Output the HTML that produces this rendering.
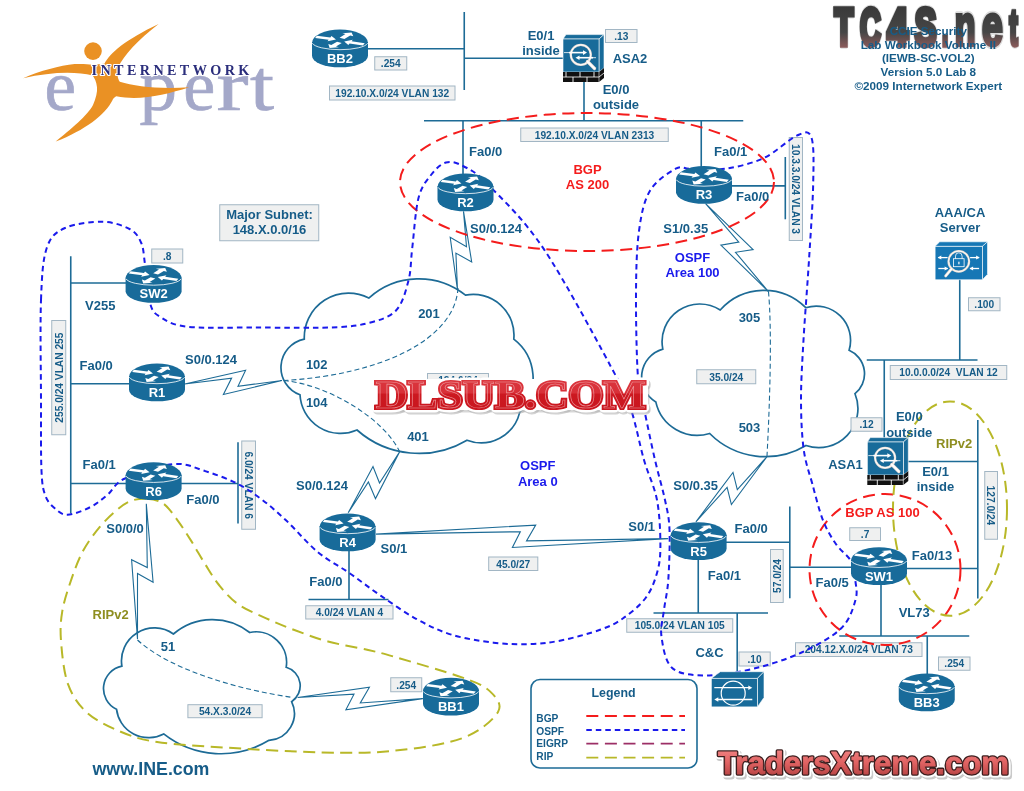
<!DOCTYPE html>
<html><head><meta charset="utf-8"><style>
html,body{margin:0;padding:0;background:#fff;width:1024px;height:791px;overflow:hidden}
svg{display:block;will-change:transform}
text{font-family:"Liberation Sans",sans-serif}
</style></head><body>
<svg width="1024" height="791" viewBox="0 0 1024 791">
<defs>
<linearGradient id="tcg" gradientUnits="userSpaceOnUse" x1="0" y1="7" x2="0" y2="48">
<stop offset="0" stop-color="#3a3a3a"/><stop offset="0.62" stop-color="#464646"/><stop offset="1" stop-color="#8e5c5c"/>
</linearGradient>
<linearGradient id="txg" gradientUnits="userSpaceOnUse" x1="0" y1="750" x2="0" y2="776">
<stop offset="0" stop-color="#f08080"/><stop offset="0.5" stop-color="#e06262"/><stop offset="1" stop-color="#b84444"/>
</linearGradient>
<linearGradient id="dlg" x1="0" y1="0" x2="0" y2="1">
<stop offset="0" stop-color="#dc3a42"/><stop offset="0.48" stop-color="#d83038"/><stop offset="0.52" stop-color="#cc1820"/><stop offset="1" stop-color="#c8161e"/>
</linearGradient>
</defs>
<g id="logo">
<text x="44.5" y="109.7" style="font-family:Liberation Serif" font-size="72" fill="#a4a8c9" stroke="#a4a8c9" stroke-width="0.7" textLength="31.5" lengthAdjust="spacingAndGlyphs">e</text>
<text x="139.5" y="109.7" style="font-family:Liberation Serif" font-size="72" fill="#a4a8c9" stroke="#a4a8c9" stroke-width="0.7" textLength="37.5" lengthAdjust="spacingAndGlyphs">p</text>
<text x="183.3" y="109.7" style="font-family:Liberation Serif" font-size="72" fill="#a4a8c9" stroke="#a4a8c9" stroke-width="0.7" textLength="32" lengthAdjust="spacingAndGlyphs">e</text>
<text x="216.5" y="109.7" style="font-family:Liberation Serif" font-size="72" fill="#a4a8c9" stroke="#a4a8c9" stroke-width="0.7" textLength="32" lengthAdjust="spacingAndGlyphs">r</text>
<text x="250" y="109.7" style="font-family:Liberation Serif" font-size="72" fill="#a4a8c9" stroke="#a4a8c9" stroke-width="0.7" textLength="24" lengthAdjust="spacingAndGlyphs">t</text>
<path fill="#ea9124" d="M23.1 78.2 C40 71 60 65.5 74.6 64.1 C82 63.5 88 64.3 92 64.7 L104.4 63.8 C110 53 125 40 158.6 24 C138 40 124 55 118 67.4 C116.5 72 117.5 78 119.8 81.8 C135 86.5 160 89.5 189.3 87.3 C165 95 140 101 116.2 96.3 C114 97.5 113 99 112.6 99.9 C105 115 85 130 55.7 141.5 C70 130 88 115 93 105 C96 98 97.5 92 97 87.3 C96.5 82 94.5 78 92.7 75.5 C75 71 50 72 23.1 78.2 Z"/>
<circle cx="93" cy="51.1" r="8.8" fill="#ea9124"/>
<text x="91.6" y="74.6" style="font-family:Liberation Serif" font-weight="bold" font-size="14.2" fill="#fff" stroke="#fff" stroke-width="2.2" stroke-linejoin="round" textLength="157.7" lengthAdjust="spacing">INTERNETWORK</text>
<text x="91.6" y="74.6" style="font-family:Liberation Serif" font-weight="bold" font-size="14.2" fill="#2b2e7c" textLength="157.7" lengthAdjust="spacing">INTERNETWORK</text>
</g>
<line x1="368" y1="48.75" x2="464.25" y2="48.75" stroke="#1d6b96" stroke-width="1.6"/>
<line x1="464.25" y1="12" x2="464.25" y2="90" stroke="#1d6b96" stroke-width="1.6"/>
<line x1="464.25" y1="58.25" x2="563" y2="58.25" stroke="#1d6b96" stroke-width="1.6"/>
<line x1="584" y1="81" x2="584" y2="120.75" stroke="#1d6b96" stroke-width="1.6"/>
<line x1="424" y1="120.75" x2="743.25" y2="120.75" stroke="#1d6b96" stroke-width="1.6"/>
<line x1="463" y1="120.75" x2="463" y2="175" stroke="#1d6b96" stroke-width="1.6"/>
<line x1="701.25" y1="120.75" x2="701.25" y2="168" stroke="#1d6b96" stroke-width="1.6"/>
<line x1="732" y1="185.9" x2="785" y2="185.9" stroke="#1d6b96" stroke-width="1.6"/>
<line x1="785.3" y1="157" x2="785.3" y2="219.3" stroke="#1d6b96" stroke-width="1.6"/>
<line x1="71" y1="283" x2="126" y2="283" stroke="#1d6b96" stroke-width="1.6"/>
<line x1="70.75" y1="256.25" x2="70.75" y2="513.5" stroke="#1d6b96" stroke-width="1.6"/>
<line x1="71" y1="383.75" x2="129" y2="383.75" stroke="#1d6b96" stroke-width="1.6"/>
<line x1="71" y1="483.5" x2="126" y2="483.5" stroke="#1d6b96" stroke-width="1.6"/>
<line x1="181" y1="483.5" x2="238" y2="483.5" stroke="#1d6b96" stroke-width="1.6"/>
<line x1="238" y1="442.25" x2="238" y2="523.5" stroke="#1d6b96" stroke-width="1.6"/>
<line x1="349" y1="550" x2="349" y2="599.5" stroke="#1d6b96" stroke-width="1.6"/>
<line x1="308.5" y1="599.5" x2="388.5" y2="599.5" stroke="#1d6b96" stroke-width="1.6"/>
<line x1="726" y1="542.25" x2="790" y2="542.25" stroke="#1d6b96" stroke-width="1.6"/>
<line x1="789.8" y1="506.5" x2="789.8" y2="598.3" stroke="#1d6b96" stroke-width="1.6"/>
<line x1="790" y1="567.25" x2="852" y2="567.25" stroke="#1d6b96" stroke-width="1.6"/>
<line x1="906" y1="568.5" x2="977.8" y2="568.5" stroke="#1d6b96" stroke-width="1.6"/>
<line x1="977.8" y1="420" x2="977.8" y2="598.4" stroke="#1d6b96" stroke-width="1.6"/>
<line x1="908" y1="461.5" x2="977.8" y2="461.5" stroke="#1d6b96" stroke-width="1.6"/>
<line x1="866.75" y1="360" x2="977.5" y2="360" stroke="#1d6b96" stroke-width="1.6"/>
<line x1="959.75" y1="279" x2="959.75" y2="360" stroke="#1d6b96" stroke-width="1.6"/>
<line x1="884.25" y1="360" x2="884.25" y2="438" stroke="#1d6b96" stroke-width="1.6"/>
<line x1="881" y1="584" x2="881" y2="636" stroke="#1d6b96" stroke-width="1.6"/>
<line x1="839.25" y1="636" x2="969.25" y2="636" stroke="#1d6b96" stroke-width="1.6"/>
<line x1="927.25" y1="636" x2="927.25" y2="674" stroke="#1d6b96" stroke-width="1.6"/>
<line x1="698.25" y1="559" x2="698.25" y2="613" stroke="#1d6b96" stroke-width="1.6"/>
<line x1="653.5" y1="613" x2="768" y2="613" stroke="#1d6b96" stroke-width="1.6"/>
<line x1="737.2" y1="613" x2="737.2" y2="672" stroke="#1d6b96" stroke-width="1.6"/>
<path d="M368.8 298.1 A74.72 74.72 0 0 1 465.5 295.2 A40.7 40.7 0 0 1 513.8 339.1 A49.71 49.71 0 0 1 519.7 412.4 A39.74 39.74 0 0 1 467 440.2 A93.83 93.83 0 0 1 357 430 A40.7 40.7 0 0 1 300 394.8 A29.02 29.02 0 0 1 304.3 339.1 A44.25 44.25 0 0 1 368.8 298.1 Z" fill="#ffffff" stroke="#1d6b96" stroke-width="1.7"/>
<path d="M720.2 310 A58.82 58.82 0 0 1 805.8 307.7 A34.33 34.33 0 0 1 849.1 350.3 A25.6 25.6 0 0 1 855 393.7 A39.11 39.11 0 0 1 806 445.5 A78.9 78.9 0 0 1 709.7 433.5 A42.61 42.61 0 0 1 655.8 401.9 A28.98 28.98 0 0 1 662.8 349.1 A37.71 37.71 0 0 1 720.2 310 Z" fill="#ffffff" stroke="#1d6b96" stroke-width="1.7"/>
<path d="M173.4 634 A60.13 60.13 0 0 1 249.7 632.5 A30.58 30.58 0 0 1 286.2 667.3 A19.13 19.13 0 0 1 291.6 701.7 A26.84 26.84 0 0 1 269 740.3 A92.57 92.57 0 0 1 163.7 733.9 A32.28 32.28 0 0 1 116.5 709.2 A22.83 22.83 0 0 1 121.9 666.2 A32.91 32.91 0 0 1 173.4 634 Z" fill="#ffffff" stroke="#1d6b96" stroke-width="1.7"/>
<path d="M458 288 C455 340 380 375 283.8 380.5" fill="none" stroke="#1d6b96" stroke-width="1.1" stroke-dasharray="5 3" />
<path d="M283.8 380.5 C330 385 385 420 399.8 452" fill="none" stroke="#1d6b96" stroke-width="1.1" stroke-dasharray="5 3" />
<path d="M768.5 291.8 C772 330 770 400 767 456" fill="none" stroke="#1d6b96" stroke-width="1.1" stroke-dasharray="5 3" />
<path d="M137.5 640 C170 670 240 690 293 697.5" fill="none" stroke="#1d6b96" stroke-width="1.1" stroke-dasharray="5 3" />
<path d="M184.7 384 L245.6 370.2 L238 386.3 L282 380.5 L223.4 394.5 L231.6 378.1 Z" fill="#ffffff" stroke="#1d6b96" stroke-width="1.1" stroke-linejoin="miter"/>
<path d="M463.5 211.4 L466.5 246.8 L450.2 237.3 L457.5 290 L455.9 253.1 L471.7 262 Z" fill="#ffffff" stroke="#1d6b96" stroke-width="1.1" stroke-linejoin="miter"/>
<path d="M348.2 512.8 L373 466.5 L379.5 483 L399.8 451.6 L375.5 498.6 L368.4 482 Z" fill="#ffffff" stroke="#1d6b96" stroke-width="1.1" stroke-linejoin="miter"/>
<path d="M705.6 203.6 L738.8 242.1 L720.9 245.1 L768.6 291.8 L735.5 252.3 L753.1 249.6 Z" fill="#ffffff" stroke="#1d6b96" stroke-width="1.1" stroke-linejoin="miter"/>
<path d="M695.9 521.8 L733 472.4 L737.3 489.6 L766.8 456.8 L731.4 504.6 L727.1 487.4 Z" fill="#ffffff" stroke="#1d6b96" stroke-width="1.1" stroke-linejoin="miter"/>
<path d="M146.3 503.8 L147.3 567.5 L131.6 559.7 L137.5 639.1 L137.5 573.4 L153.1 582.3 Z" fill="#ffffff" stroke="#1d6b96" stroke-width="1.1" stroke-linejoin="miter"/>
<path d="M297.6 697.5 L354 694.2 L345.9 709.8 L422.8 698.6 L360.3 703 L369.4 687.3 Z" fill="#ffffff" stroke="#1d6b96" stroke-width="1.1" stroke-linejoin="miter"/>
<path d="M376 534.1 L535.7 525.1 L526.5 540.9 L668.2 538.6 L512.4 547.5 L520.3 531.7 Z" fill="#ffffff" stroke="#1d6b96" stroke-width="1.1" stroke-linejoin="miter"/>
<rect x="374.75" y="56.75" width="32" height="13.25" fill="#eff0f0" stroke="#a2b6c4" stroke-width="1"/>
<text x="390.75" y="67.18" font-size="10.2" fill="#165c88" text-anchor="middle" font-weight="bold" >.254</text>
<rect x="329.5" y="86" width="125.5" height="14" fill="#eff0f0" stroke="#a2b6c4" stroke-width="1"/>
<text x="392.25" y="96.81" font-size="10.2" fill="#165c88" text-anchor="middle" font-weight="bold" >192.10.X.0/24 VLAN 132</text>
<rect x="605.5" y="29.5" width="31.5" height="13" fill="#eff0f0" stroke="#a2b6c4" stroke-width="1"/>
<text x="621.25" y="39.81" font-size="10.2" fill="#165c88" text-anchor="middle" font-weight="bold" >.13</text>
<rect x="520.75" y="128" width="147.5" height="13.5" fill="#eff0f0" stroke="#a2b6c4" stroke-width="1"/>
<text x="594.5" y="138.56" font-size="10.2" fill="#165c88" text-anchor="middle" font-weight="bold" >192.10.X.0/24 VLAN 2313</text>
<rect x="789.25" y="137.5" width="13.25" height="103" fill="#eff0f0" stroke="#a2b6c4" stroke-width="1"/>
<g transform="translate(795.88 189) rotate(90)">
<text x="0" y="3.81" font-size="10.2" fill="#165c88" text-anchor="middle" font-weight="bold" >10.3.3.0/24 VLAN 3</text>
</g>
<rect x="219.75" y="204.75" width="99" height="36" fill="#eff0f0" stroke="#a2b6c4" stroke-width="1"/>
<text x="269.5" y="219.27" font-size="13" fill="#165c88" text-anchor="middle" font-weight="bold" >Major Subnet:</text>
<text x="269.5" y="234.27" font-size="13" fill="#165c88" text-anchor="middle" font-weight="bold" >148.X.0.0/16</text>
<rect x="151.75" y="249" width="31" height="14" fill="#eff0f0" stroke="#a2b6c4" stroke-width="1"/>
<text x="167.25" y="259.81" font-size="10.2" fill="#165c88" text-anchor="middle" font-weight="bold" >.8</text>
<rect x="51.75" y="320.5" width="14" height="114.25" fill="#eff0f0" stroke="#a2b6c4" stroke-width="1"/>
<g transform="translate(58.75 377.62) rotate(-90)">
<text x="0" y="3.81" font-size="10.2" fill="#165c88" text-anchor="middle" font-weight="bold" >255.0/24 VLAN 255</text>
</g>
<rect x="241.75" y="441" width="13.75" height="88.25" fill="#eff0f0" stroke="#a2b6c4" stroke-width="1"/>
<g transform="translate(248.62 485.12) rotate(90)">
<text x="0" y="3.81" font-size="10.2" fill="#165c88" text-anchor="middle" font-weight="bold" >6.0/24 VLAN 6</text>
</g>
<rect x="968.5" y="297.75" width="31.5" height="13" fill="#eff0f0" stroke="#a2b6c4" stroke-width="1"/>
<text x="984.25" y="308.06" font-size="10.2" fill="#165c88" text-anchor="middle" font-weight="bold" >.100</text>
<rect x="890.25" y="365.5" width="116.5" height="14" fill="#eff0f0" stroke="#a2b6c4" stroke-width="1"/>
<text x="948.5" y="376.31" font-size="10.2" fill="#165c88" text-anchor="middle" font-weight="bold" >10.0.0.0/24&#160;&#160;VLAN 12</text>
<rect x="696.75" y="369.75" width="59" height="14" fill="#eff0f0" stroke="#a2b6c4" stroke-width="1"/>
<text x="726.25" y="380.56" font-size="10.2" fill="#165c88" text-anchor="middle" font-weight="bold" >35.0/24</text>
<rect x="427.5" y="373.5" width="61" height="14" fill="#eff0f0" stroke="#a2b6c4" stroke-width="1"/>
<text x="458" y="384.31" font-size="10.2" fill="#165c88" text-anchor="middle" font-weight="bold" >124.0/24</text>
<rect x="851" y="417.75" width="31" height="13.5" fill="#eff0f0" stroke="#a2b6c4" stroke-width="1"/>
<text x="866.5" y="428.31" font-size="10.2" fill="#165c88" text-anchor="middle" font-weight="bold" >.12</text>
<rect x="984.75" y="471.5" width="12.75" height="67.75" fill="#eff0f0" stroke="#a2b6c4" stroke-width="1"/>
<g transform="translate(991.12 505.38) rotate(90)">
<text x="0" y="3.81" font-size="10.2" fill="#165c88" text-anchor="middle" font-weight="bold" >127.0/24</text>
</g>
<rect x="849.75" y="527.75" width="30.75" height="12.75" fill="#eff0f0" stroke="#a2b6c4" stroke-width="1"/>
<text x="865.12" y="537.93" font-size="10.2" fill="#165c88" text-anchor="middle" font-weight="bold" >.7</text>
<rect x="488.7" y="557" width="49.1" height="13.5" fill="#eff0f0" stroke="#a2b6c4" stroke-width="1"/>
<text x="513.25" y="567.56" font-size="10.2" fill="#165c88" text-anchor="middle" font-weight="bold" >45.0/27</text>
<rect x="770.5" y="549.5" width="12.7" height="53" fill="#eff0f0" stroke="#a2b6c4" stroke-width="1"/>
<g transform="translate(776.85 576) rotate(-90)">
<text x="0" y="3.81" font-size="10.2" fill="#165c88" text-anchor="middle" font-weight="bold" >57.0/24</text>
</g>
<rect x="305.75" y="605.75" width="87.25" height="13.25" fill="#eff0f0" stroke="#a2b6c4" stroke-width="1"/>
<text x="349.38" y="616.18" font-size="10.2" fill="#165c88" text-anchor="middle" font-weight="bold" >4.0/24 VLAN 4</text>
<rect x="626.75" y="618.75" width="106" height="13.5" fill="#eff0f0" stroke="#a2b6c4" stroke-width="1"/>
<text x="679.75" y="629.31" font-size="10.2" fill="#165c88" text-anchor="middle" font-weight="bold" >105.0/24 VLAN 105</text>
<rect x="739" y="652" width="31.2" height="14" fill="#eff0f0" stroke="#a2b6c4" stroke-width="1"/>
<text x="754.6" y="662.81" font-size="10.2" fill="#165c88" text-anchor="middle" font-weight="bold" >.10</text>
<rect x="795.5" y="642.75" width="126.5" height="13.75" fill="#eff0f0" stroke="#a2b6c4" stroke-width="1"/>
<text x="858.75" y="653.43" font-size="10.2" fill="#165c88" text-anchor="middle" font-weight="bold" >204.12.X.0/24 VLAN 73</text>
<rect x="938.5" y="657" width="31.5" height="13.25" fill="#eff0f0" stroke="#a2b6c4" stroke-width="1"/>
<text x="954.25" y="667.43" font-size="10.2" fill="#165c88" text-anchor="middle" font-weight="bold" >.254</text>
<rect x="187.9" y="704.7" width="74.2" height="13" fill="#eff0f0" stroke="#a2b6c4" stroke-width="1"/>
<text x="225" y="715.01" font-size="10.2" fill="#165c88" text-anchor="middle" font-weight="bold" >54.X.3.0/24</text>
<rect x="390.75" y="677.75" width="31" height="14" fill="#eff0f0" stroke="#a2b6c4" stroke-width="1"/>
<text x="406.25" y="688.56" font-size="10.2" fill="#165c88" text-anchor="middle" font-weight="bold" >.254</text>
<rect x="531" y="679.5" width="166" height="88.5" rx="9" ry="9" fill="#ffffff" stroke="#1d6b96" stroke-width="1.6"/>
<text x="613.5" y="696.57" font-size="12.4" fill="#165c88" text-anchor="middle" font-weight="bold" >Legend</text>
<text x="536.3" y="721.61" font-size="10.2" fill="#165c88" text-anchor="start" font-weight="bold" >BGP</text>
<text x="536.3" y="734.61" font-size="10.2" fill="#165c88" text-anchor="start" font-weight="bold" >OSPF</text>
<text x="536.3" y="747.41" font-size="10.2" fill="#165c88" text-anchor="start" font-weight="bold" >EIGRP</text>
<text x="536.3" y="760.01" font-size="10.2" fill="#165c88" text-anchor="start" font-weight="bold" >RIP</text>
<path d="M586.3 716 L685 716" fill="none" stroke="#f41c1c" stroke-width="1.8" stroke-dasharray="12 6.6" />
<path d="M586.3 730 L685 730" fill="none" stroke="#1a1aec" stroke-width="1.8" stroke-dasharray="5.5 4" />
<path d="M586.3 743.6 L685 743.6" fill="none" stroke="#9c2f66" stroke-width="1.8" stroke-dasharray="12 6.6" />
<path d="M586.3 757.6 L685 757.6" fill="none" stroke="#b8b828" stroke-width="1.8" stroke-dasharray="12 6.6" />
<ellipse cx="587" cy="182" rx="187" ry="69" fill="none" stroke="#f41c1c" stroke-width="2" stroke-dasharray="12 6.5"/>
<circle cx="885" cy="569.5" r="75.5" fill="none" stroke="#f41c1c" stroke-width="2" stroke-dasharray="12 6.5"/>
<ellipse cx="950" cy="508.6" rx="57" ry="107.2" fill="none" stroke="#b8b828" stroke-width="2" stroke-dasharray="12 6.5"/>
<path d="M146.7 498.75 C152.17 499.13 158.02 499.89 163.1 503.4 C168.18 506.91 172.52 513.55 177.2 519.8 C181.88 526.05 186.52 533.47 191.2 540.9 C195.88 548.33 200.6 556.97 205.3 564.4 C210 571.83 213.93 578.87 219.4 585.5 C224.87 592.13 230.3 598.73 238.1 604.2 C245.9 609.67 256.82 614 266.2 618.3 C275.58 622.6 284.1 626.13 294.4 630 C304.7 633.87 315.7 638.17 328 641.5 C340.3 644.83 357.03 647.42 368.2 650 C379.37 652.58 379.38 652.43 395 657 C410.62 661.57 446.07 671.67 461.9 677.4 C477.73 683.13 483.98 685.63 490 691.4 C496.02 697.17 502.68 704.18 498 712 C493.32 719.82 479.63 731.8 461.9 738.3 C444.17 744.8 415.03 748.65 391.6 751 C368.17 753.35 348.65 752.95 321.3 752.4 C293.95 751.85 254.85 749.43 227.5 747.7 C200.15 745.97 175.17 744.73 157.2 742 C139.23 739.27 131.42 736.22 119.7 731.3 C107.98 726.38 95.5 720.32 86.9 712.5 C78.3 704.68 72.4 696.12 68.1 684.4 C63.8 672.68 62.07 654.4 61.1 642.2 C60.13 630 60.53 621.83 62.3 611.2 C64.07 600.57 68.18 588.55 71.7 578.4 C75.22 568.25 78.72 558.88 83.4 550.3 C88.08 541.72 94.33 533.53 99.8 526.9 C105.27 520.27 111.12 514.8 116.2 510.5 C121.28 506.2 125.22 503.06 130.3 501.1 C135.38 499.14 141.23 498.37 146.7 498.75 Z" fill="none" stroke="#b8b828" stroke-width="2" stroke-dasharray="12 6.5" />
<path d="M41 300 C41.96 274.67 42.75 260 46.75 248 C50.75 236 55.71 232.38 65 228 C74.29 223.62 91.67 221.54 102.5 221.75 C113.33 221.96 123.54 225.71 130 229.25 C136.46 232.79 138.75 237.17 141.25 243 C143.75 248.83 143.54 254.25 145 264.25 C146.46 274.25 147.5 294.25 150 303 C152.5 311.75 153.75 312.79 160 316.75 C166.25 320.71 171.5 324.96 187.5 326.75 C203.5 328.54 232.08 327.38 256 327.5 C279.92 327.62 312.25 328.25 331 327.5 C349.75 326.75 357.67 325.83 368.5 323 C379.33 320.17 389.33 317.58 396 310.5 C402.67 303.42 405.79 290.92 408.5 280.5 C411.21 270.08 410.58 261.75 412.25 248 C413.92 234.25 415.38 210.17 418.5 198 C421.62 185.83 426.42 180.92 431 175 C435.58 169.08 440.58 163.96 446 162.5 C451.42 161.04 456.42 162.5 463.5 166.25 C470.58 170 474.97 170.97 488.5 185 C502.03 199.03 523.28 218.23 544.7 250.4 C566.12 282.57 602.53 351.23 617 378 C631.47 404.77 627 397.33 631.5 411 C636 424.67 639.75 445.17 644 460 C648.25 474.83 654.27 485.73 657 500 C659.73 514.27 660.4 533.45 660.4 545.6 C660.4 557.75 659.47 564.17 657 572.9 C654.53 581.63 651.3 590.4 645.6 598 C639.9 605.6 630.4 613.2 622.8 618.5 C615.2 623.8 610.13 626.17 600 629.8 C589.87 633.42 573.67 637.87 562 640.25 C550.33 642.63 541.42 643.69 530 644.1 C518.58 644.51 506.62 644.28 493.5 642.7 C480.38 641.12 464.2 638.58 451.3 634.6 C438.4 630.62 427.82 625.25 416.1 618.8 C404.38 612.35 392.13 603.53 381 595.9 C369.87 588.27 359.85 580.32 349.3 573 C338.75 565.68 328.25 560.78 317.7 552 C307.15 543.22 295.38 529.1 286 520.3 C276.62 511.5 269.6 505.35 261.4 499.2 C253.2 493.05 246.17 488.08 236.8 483.4 C227.43 478.72 215.75 474.32 205.2 471.1 C194.65 467.88 186.87 462.87 173.5 464.1 C160.13 465.33 136 473.39 125 478.5 C114 483.61 113.33 489.96 107.5 494.75 C101.67 499.54 96.67 503.92 90 507.25 C83.33 510.58 73.33 514.54 67.5 514.75 C61.67 514.96 58.67 511.62 55 508.5 C51.33 505.38 47.75 502.25 45.5 496 C43.25 489.75 42.25 487 41.5 471 C40.75 455 41.08 428.5 41 400 C40.92 371.5 40.04 325.33 41 300 Z" fill="none" stroke="#1a1aec" stroke-width="2" stroke-dasharray="5.5 4" />
<path d="M690.8 168.8 C699.05 168.82 713.02 170.6 725.2 168.8 C737.38 167 751.98 163.52 763.9 158 C775.82 152.48 788.78 139.12 796.7 135.7 C804.62 132.28 808.65 129.57 811.4 137.5 C814.15 145.43 813.6 162.88 813.2 183.3 C812.8 203.72 810.62 233.88 809 260 C807.38 286.12 804.83 316.67 803.5 340 C802.17 363.33 800.97 381.77 801 400 C801.03 418.23 801.82 435.43 803.7 449.4 C805.58 463.37 809.08 471.98 812.3 483.8 C815.52 495.62 819.07 510.27 823 520.3 C826.93 530.33 831.23 537.18 835.9 544 C840.57 550.82 847.77 555.12 851 561.2 C854.23 567.28 854.55 574.03 855.3 580.5 C856.05 586.97 857.8 592.08 855.5 600 C853.2 607.92 850.08 619.43 841.5 628 C832.92 636.57 818.05 644.77 804 651.4 C789.95 658.03 772.98 663.8 757.2 667.8 C741.42 671.8 723.35 675.27 709.3 675.4 C695.25 675.53 680.87 675.05 672.9 668.6 C664.93 662.15 662.98 646.47 661.5 636.7 C660.02 626.93 662.87 619.5 664 610 C665.13 600.5 667.38 593.1 668.3 579.7 C669.22 566.3 670.05 542.88 669.5 529.6 C668.95 516.32 667.42 511.6 665 500 C662.58 488.4 658.42 474.83 655 460 C651.58 445.17 647.33 424.67 644.5 411 C641.67 397.33 639.42 397.6 638 378 C636.58 358.4 635.83 317.9 636 293.4 C636.17 268.9 636.67 248.12 639 231 C641.33 213.88 643.88 201.08 650 190.7 C656.12 180.32 668.9 172.35 675.7 168.7 C682.5 165.05 682.55 168.78 690.8 168.8 Z" fill="none" stroke="#1a1aec" stroke-width="2" stroke-dasharray="5.5 4" />
<g transform="translate(340 41)">
<path d="M-28 1 L-28 14.8 A28 11.5 0 0 0 28 14.8 L28 1 Z" fill="#186b9a"/>
<path d="M-28 2 A28 13.5 0 0 1 28 2 A28 7.6 0 0 1 -28 2 Z" fill="#186b9a"/>
<path d="M-27.7 2.2 A28 7.6 0 0 0 27.7 2.2" fill="none" stroke="#ffffff" stroke-width="0.9" opacity="0.9"/>
<g fill="#ffffff">
<path d="M-24.86 -3.04 L-11.35 -1.28 L-12.45 0.2 L-4 -1.6 L-8.54 -5.09 L-9.64 -3.61 L-23.14 -5.36Z"/>
<path d="M24.79 2.26 L11.58 0.23 L12.85 -1.23 L4.2 0.4 L8.33 3.98 L9.6 2.52 L22.81 4.54Z"/>
<path d="M4.41 -1.92 L10.21 -5.55 L13.29 -4.68 L11.6 -8.6 L2.33 -7.78 L5.4 -6.91 L-0.41 -3.28Z"/>
<path d="M-2.94 0.68 L-8.71 3.98 L-11.69 3.06 L-10.4 7 L-1.05 6.34 L-4.04 5.42 L1.74 2.12Z"/>
</g>
</g>
<text x="340" y="62.77" font-size="13" fill="#ffffff" text-anchor="middle" font-weight="bold" >BB2</text>
<g transform="translate(465.5 185)">
<path d="M-28 1 L-28 14.8 A28 11.5 0 0 0 28 14.8 L28 1 Z" fill="#186b9a"/>
<path d="M-28 2 A28 13.5 0 0 1 28 2 A28 7.6 0 0 1 -28 2 Z" fill="#186b9a"/>
<path d="M-27.7 2.2 A28 7.6 0 0 0 27.7 2.2" fill="none" stroke="#ffffff" stroke-width="0.9" opacity="0.9"/>
<g fill="#ffffff">
<path d="M-24.86 -3.04 L-11.35 -1.28 L-12.45 0.2 L-4 -1.6 L-8.54 -5.09 L-9.64 -3.61 L-23.14 -5.36Z"/>
<path d="M24.79 2.26 L11.58 0.23 L12.85 -1.23 L4.2 0.4 L8.33 3.98 L9.6 2.52 L22.81 4.54Z"/>
<path d="M4.41 -1.92 L10.21 -5.55 L13.29 -4.68 L11.6 -8.6 L2.33 -7.78 L5.4 -6.91 L-0.41 -3.28Z"/>
<path d="M-2.94 0.68 L-8.71 3.98 L-11.69 3.06 L-10.4 7 L-1.05 6.34 L-4.04 5.42 L1.74 2.12Z"/>
</g>
</g>
<text x="465.5" y="206.77" font-size="13" fill="#ffffff" text-anchor="middle" font-weight="bold" >R2</text>
<g transform="translate(704 177.5)">
<path d="M-28 1 L-28 14.8 A28 11.5 0 0 0 28 14.8 L28 1 Z" fill="#186b9a"/>
<path d="M-28 2 A28 13.5 0 0 1 28 2 A28 7.6 0 0 1 -28 2 Z" fill="#186b9a"/>
<path d="M-27.7 2.2 A28 7.6 0 0 0 27.7 2.2" fill="none" stroke="#ffffff" stroke-width="0.9" opacity="0.9"/>
<g fill="#ffffff">
<path d="M-24.86 -3.04 L-11.35 -1.28 L-12.45 0.2 L-4 -1.6 L-8.54 -5.09 L-9.64 -3.61 L-23.14 -5.36Z"/>
<path d="M24.79 2.26 L11.58 0.23 L12.85 -1.23 L4.2 0.4 L8.33 3.98 L9.6 2.52 L22.81 4.54Z"/>
<path d="M4.41 -1.92 L10.21 -5.55 L13.29 -4.68 L11.6 -8.6 L2.33 -7.78 L5.4 -6.91 L-0.41 -3.28Z"/>
<path d="M-2.94 0.68 L-8.71 3.98 L-11.69 3.06 L-10.4 7 L-1.05 6.34 L-4.04 5.42 L1.74 2.12Z"/>
</g>
</g>
<text x="704" y="199.27" font-size="13" fill="#ffffff" text-anchor="middle" font-weight="bold" >R3</text>
<g transform="translate(153.6 276.5)">
<path d="M-28 1 L-28 14.8 A28 11.5 0 0 0 28 14.8 L28 1 Z" fill="#186b9a"/>
<path d="M-28 2 A28 13.5 0 0 1 28 2 A28 7.6 0 0 1 -28 2 Z" fill="#186b9a"/>
<path d="M-27.7 2.2 A28 7.6 0 0 0 27.7 2.2" fill="none" stroke="#ffffff" stroke-width="0.9" opacity="0.9"/>
<g fill="#ffffff">
<path d="M-24.86 -3.04 L-11.35 -1.28 L-12.45 0.2 L-4 -1.6 L-8.54 -5.09 L-9.64 -3.61 L-23.14 -5.36Z"/>
<path d="M24.79 2.26 L11.58 0.23 L12.85 -1.23 L4.2 0.4 L8.33 3.98 L9.6 2.52 L22.81 4.54Z"/>
<path d="M4.41 -1.92 L10.21 -5.55 L13.29 -4.68 L11.6 -8.6 L2.33 -7.78 L5.4 -6.91 L-0.41 -3.28Z"/>
<path d="M-2.94 0.68 L-8.71 3.98 L-11.69 3.06 L-10.4 7 L-1.05 6.34 L-4.04 5.42 L1.74 2.12Z"/>
</g>
</g>
<text x="153.6" y="298.27" font-size="13" fill="#ffffff" text-anchor="middle" font-weight="bold" >SW2</text>
<g transform="translate(157 375)">
<path d="M-28 1 L-28 14.8 A28 11.5 0 0 0 28 14.8 L28 1 Z" fill="#186b9a"/>
<path d="M-28 2 A28 13.5 0 0 1 28 2 A28 7.6 0 0 1 -28 2 Z" fill="#186b9a"/>
<path d="M-27.7 2.2 A28 7.6 0 0 0 27.7 2.2" fill="none" stroke="#ffffff" stroke-width="0.9" opacity="0.9"/>
<g fill="#ffffff">
<path d="M-24.86 -3.04 L-11.35 -1.28 L-12.45 0.2 L-4 -1.6 L-8.54 -5.09 L-9.64 -3.61 L-23.14 -5.36Z"/>
<path d="M24.79 2.26 L11.58 0.23 L12.85 -1.23 L4.2 0.4 L8.33 3.98 L9.6 2.52 L22.81 4.54Z"/>
<path d="M4.41 -1.92 L10.21 -5.55 L13.29 -4.68 L11.6 -8.6 L2.33 -7.78 L5.4 -6.91 L-0.41 -3.28Z"/>
<path d="M-2.94 0.68 L-8.71 3.98 L-11.69 3.06 L-10.4 7 L-1.05 6.34 L-4.04 5.42 L1.74 2.12Z"/>
</g>
</g>
<text x="157" y="396.77" font-size="13" fill="#ffffff" text-anchor="middle" font-weight="bold" >R1</text>
<g transform="translate(153.6 473.75)">
<path d="M-28 1 L-28 14.8 A28 11.5 0 0 0 28 14.8 L28 1 Z" fill="#186b9a"/>
<path d="M-28 2 A28 13.5 0 0 1 28 2 A28 7.6 0 0 1 -28 2 Z" fill="#186b9a"/>
<path d="M-27.7 2.2 A28 7.6 0 0 0 27.7 2.2" fill="none" stroke="#ffffff" stroke-width="0.9" opacity="0.9"/>
<g fill="#ffffff">
<path d="M-24.86 -3.04 L-11.35 -1.28 L-12.45 0.2 L-4 -1.6 L-8.54 -5.09 L-9.64 -3.61 L-23.14 -5.36Z"/>
<path d="M24.79 2.26 L11.58 0.23 L12.85 -1.23 L4.2 0.4 L8.33 3.98 L9.6 2.52 L22.81 4.54Z"/>
<path d="M4.41 -1.92 L10.21 -5.55 L13.29 -4.68 L11.6 -8.6 L2.33 -7.78 L5.4 -6.91 L-0.41 -3.28Z"/>
<path d="M-2.94 0.68 L-8.71 3.98 L-11.69 3.06 L-10.4 7 L-1.05 6.34 L-4.04 5.42 L1.74 2.12Z"/>
</g>
</g>
<text x="153.6" y="495.52" font-size="13" fill="#ffffff" text-anchor="middle" font-weight="bold" >R6</text>
<g transform="translate(347.6 525)">
<path d="M-28 1 L-28 14.8 A28 11.5 0 0 0 28 14.8 L28 1 Z" fill="#186b9a"/>
<path d="M-28 2 A28 13.5 0 0 1 28 2 A28 7.6 0 0 1 -28 2 Z" fill="#186b9a"/>
<path d="M-27.7 2.2 A28 7.6 0 0 0 27.7 2.2" fill="none" stroke="#ffffff" stroke-width="0.9" opacity="0.9"/>
<g fill="#ffffff">
<path d="M-24.86 -3.04 L-11.35 -1.28 L-12.45 0.2 L-4 -1.6 L-8.54 -5.09 L-9.64 -3.61 L-23.14 -5.36Z"/>
<path d="M24.79 2.26 L11.58 0.23 L12.85 -1.23 L4.2 0.4 L8.33 3.98 L9.6 2.52 L22.81 4.54Z"/>
<path d="M4.41 -1.92 L10.21 -5.55 L13.29 -4.68 L11.6 -8.6 L2.33 -7.78 L5.4 -6.91 L-0.41 -3.28Z"/>
<path d="M-2.94 0.68 L-8.71 3.98 L-11.69 3.06 L-10.4 7 L-1.05 6.34 L-4.04 5.42 L1.74 2.12Z"/>
</g>
</g>
<text x="347.6" y="546.77" font-size="13" fill="#ffffff" text-anchor="middle" font-weight="bold" >R4</text>
<g transform="translate(698.6 533.75)">
<path d="M-28 1 L-28 14.8 A28 11.5 0 0 0 28 14.8 L28 1 Z" fill="#186b9a"/>
<path d="M-28 2 A28 13.5 0 0 1 28 2 A28 7.6 0 0 1 -28 2 Z" fill="#186b9a"/>
<path d="M-27.7 2.2 A28 7.6 0 0 0 27.7 2.2" fill="none" stroke="#ffffff" stroke-width="0.9" opacity="0.9"/>
<g fill="#ffffff">
<path d="M-24.86 -3.04 L-11.35 -1.28 L-12.45 0.2 L-4 -1.6 L-8.54 -5.09 L-9.64 -3.61 L-23.14 -5.36Z"/>
<path d="M24.79 2.26 L11.58 0.23 L12.85 -1.23 L4.2 0.4 L8.33 3.98 L9.6 2.52 L22.81 4.54Z"/>
<path d="M4.41 -1.92 L10.21 -5.55 L13.29 -4.68 L11.6 -8.6 L2.33 -7.78 L5.4 -6.91 L-0.41 -3.28Z"/>
<path d="M-2.94 0.68 L-8.71 3.98 L-11.69 3.06 L-10.4 7 L-1.05 6.34 L-4.04 5.42 L1.74 2.12Z"/>
</g>
</g>
<text x="698.6" y="555.52" font-size="13" fill="#ffffff" text-anchor="middle" font-weight="bold" >R5</text>
<g transform="translate(879 558.75)">
<path d="M-28 1 L-28 14.8 A28 11.5 0 0 0 28 14.8 L28 1 Z" fill="#186b9a"/>
<path d="M-28 2 A28 13.5 0 0 1 28 2 A28 7.6 0 0 1 -28 2 Z" fill="#186b9a"/>
<path d="M-27.7 2.2 A28 7.6 0 0 0 27.7 2.2" fill="none" stroke="#ffffff" stroke-width="0.9" opacity="0.9"/>
<g fill="#ffffff">
<path d="M-24.86 -3.04 L-11.35 -1.28 L-12.45 0.2 L-4 -1.6 L-8.54 -5.09 L-9.64 -3.61 L-23.14 -5.36Z"/>
<path d="M24.79 2.26 L11.58 0.23 L12.85 -1.23 L4.2 0.4 L8.33 3.98 L9.6 2.52 L22.81 4.54Z"/>
<path d="M4.41 -1.92 L10.21 -5.55 L13.29 -4.68 L11.6 -8.6 L2.33 -7.78 L5.4 -6.91 L-0.41 -3.28Z"/>
<path d="M-2.94 0.68 L-8.71 3.98 L-11.69 3.06 L-10.4 7 L-1.05 6.34 L-4.04 5.42 L1.74 2.12Z"/>
</g>
</g>
<text x="879" y="580.52" font-size="13" fill="#ffffff" text-anchor="middle" font-weight="bold" >SW1</text>
<g transform="translate(451 689.25)">
<path d="M-28 1 L-28 14.8 A28 11.5 0 0 0 28 14.8 L28 1 Z" fill="#186b9a"/>
<path d="M-28 2 A28 13.5 0 0 1 28 2 A28 7.6 0 0 1 -28 2 Z" fill="#186b9a"/>
<path d="M-27.7 2.2 A28 7.6 0 0 0 27.7 2.2" fill="none" stroke="#ffffff" stroke-width="0.9" opacity="0.9"/>
<g fill="#ffffff">
<path d="M-24.86 -3.04 L-11.35 -1.28 L-12.45 0.2 L-4 -1.6 L-8.54 -5.09 L-9.64 -3.61 L-23.14 -5.36Z"/>
<path d="M24.79 2.26 L11.58 0.23 L12.85 -1.23 L4.2 0.4 L8.33 3.98 L9.6 2.52 L22.81 4.54Z"/>
<path d="M4.41 -1.92 L10.21 -5.55 L13.29 -4.68 L11.6 -8.6 L2.33 -7.78 L5.4 -6.91 L-0.41 -3.28Z"/>
<path d="M-2.94 0.68 L-8.71 3.98 L-11.69 3.06 L-10.4 7 L-1.05 6.34 L-4.04 5.42 L1.74 2.12Z"/>
</g>
</g>
<text x="451" y="711.02" font-size="13" fill="#ffffff" text-anchor="middle" font-weight="bold" >BB1</text>
<g transform="translate(926.75 685)">
<path d="M-28 1 L-28 14.8 A28 11.5 0 0 0 28 14.8 L28 1 Z" fill="#186b9a"/>
<path d="M-28 2 A28 13.5 0 0 1 28 2 A28 7.6 0 0 1 -28 2 Z" fill="#186b9a"/>
<path d="M-27.7 2.2 A28 7.6 0 0 0 27.7 2.2" fill="none" stroke="#ffffff" stroke-width="0.9" opacity="0.9"/>
<g fill="#ffffff">
<path d="M-24.86 -3.04 L-11.35 -1.28 L-12.45 0.2 L-4 -1.6 L-8.54 -5.09 L-9.64 -3.61 L-23.14 -5.36Z"/>
<path d="M24.79 2.26 L11.58 0.23 L12.85 -1.23 L4.2 0.4 L8.33 3.98 L9.6 2.52 L22.81 4.54Z"/>
<path d="M4.41 -1.92 L10.21 -5.55 L13.29 -4.68 L11.6 -8.6 L2.33 -7.78 L5.4 -6.91 L-0.41 -3.28Z"/>
<path d="M-2.94 0.68 L-8.71 3.98 L-11.69 3.06 L-10.4 7 L-1.05 6.34 L-4.04 5.42 L1.74 2.12Z"/>
</g>
</g>
<text x="926.75" y="706.77" font-size="13" fill="#ffffff" text-anchor="middle" font-weight="bold" >BB3</text>
<g transform="translate(563 39)">
<path d="M0 0 L3 -4.4 L41 -4.4 L36 0 Z" fill="#186b9a" stroke="#fff" stroke-width="0.6"/>
<path d="M36 0 L41 -4.4 L41 29 L36 33 Z" fill="#186b9a" stroke="#fff" stroke-width="0.6"/>
<rect x="0" y="0" width="36" height="33" fill="#186b9a" stroke="#fff" stroke-width="0.6"/>
<line x1="1" y1="13.6" x2="9" y2="13.6" stroke="#fff" stroke-width="0.8"/>
<line x1="25" y1="18.7" x2="33" y2="18.7" stroke="#fff" stroke-width="0.8"/>
<circle cx="17.8" cy="15.8" r="10" fill="none" stroke="#e8ddd5" stroke-width="2.2"/>
<circle cx="17.8" cy="15.8" r="10" fill="none" stroke="#fff" stroke-width="1"/>
<path d="M24.5 22.5 L31.5 29.5" stroke="#e8ddd5" stroke-width="3.2" stroke-linecap="round"/>
<path d="M24.5 22.5 L31.5 29.5" stroke="#fff" stroke-width="1.8" stroke-linecap="round"/>
<path d="M6 13.6 L21 13.6" stroke="#fff" stroke-width="1.6"/><path d="M20 11.3 L24 13.6 L20 15.9 Z" fill="#fff"/>
<path d="M16 18.7 L30 18.7" stroke="#fff" stroke-width="1.6"/><path d="M16.5 16.4 L12.5 18.7 L16.5 21 Z" fill="#fff"/>
<path d="M0 33 L36 33 L41 29 L41 39 L36 43 L0 43 Z" fill="#111"/>
<path d="M0 38 L36 38 L41 34" stroke="#fff" stroke-width="0.8" fill="none"/>
<path d="M36 33 L36 43" stroke="#fff" stroke-width="0.6"/>
<line x1="3" y1="33" x2="3" y2="38" stroke="#fff" stroke-width="0.9"/>
<line x1="17" y1="33" x2="17" y2="38" stroke="#fff" stroke-width="0.9"/>
<line x1="31" y1="33" x2="31" y2="38" stroke="#fff" stroke-width="0.9"/>
<line x1="10" y1="38" x2="10" y2="43" stroke="#fff" stroke-width="0.9"/>
<line x1="24" y1="38" x2="24" y2="43" stroke="#fff" stroke-width="0.9"/>
</g>
<g transform="translate(867.3 442)">
<path d="M0 0 L3 -4.4 L41 -4.4 L36 0 Z" fill="#186b9a" stroke="#fff" stroke-width="0.6"/>
<path d="M36 0 L41 -4.4 L41 29 L36 33 Z" fill="#186b9a" stroke="#fff" stroke-width="0.6"/>
<rect x="0" y="0" width="36" height="33" fill="#186b9a" stroke="#fff" stroke-width="0.6"/>
<line x1="1" y1="13.6" x2="9" y2="13.6" stroke="#fff" stroke-width="0.8"/>
<line x1="25" y1="18.7" x2="33" y2="18.7" stroke="#fff" stroke-width="0.8"/>
<circle cx="17.8" cy="15.8" r="10" fill="none" stroke="#e8ddd5" stroke-width="2.2"/>
<circle cx="17.8" cy="15.8" r="10" fill="none" stroke="#fff" stroke-width="1"/>
<path d="M24.5 22.5 L31.5 29.5" stroke="#e8ddd5" stroke-width="3.2" stroke-linecap="round"/>
<path d="M24.5 22.5 L31.5 29.5" stroke="#fff" stroke-width="1.8" stroke-linecap="round"/>
<path d="M6 13.6 L21 13.6" stroke="#fff" stroke-width="1.6"/><path d="M20 11.3 L24 13.6 L20 15.9 Z" fill="#fff"/>
<path d="M16 18.7 L30 18.7" stroke="#fff" stroke-width="1.6"/><path d="M16.5 16.4 L12.5 18.7 L16.5 21 Z" fill="#fff"/>
<path d="M0 33 L36 33 L41 29 L41 39 L36 43 L0 43 Z" fill="#111"/>
<path d="M0 38 L36 38 L41 34" stroke="#fff" stroke-width="0.8" fill="none"/>
<path d="M36 33 L36 43" stroke="#fff" stroke-width="0.6"/>
<line x1="3" y1="33" x2="3" y2="38" stroke="#fff" stroke-width="0.9"/>
<line x1="17" y1="33" x2="17" y2="38" stroke="#fff" stroke-width="0.9"/>
<line x1="31" y1="33" x2="31" y2="38" stroke="#fff" stroke-width="0.9"/>
<line x1="10" y1="38" x2="10" y2="43" stroke="#fff" stroke-width="0.9"/>
<line x1="24" y1="38" x2="24" y2="43" stroke="#fff" stroke-width="0.9"/>
</g>
<g transform="translate(935.1 246.3)">
<path d="M0 0 L4.6 -4.5 L52.4 -4.5 L47.3 0 Z" fill="#1677b5" stroke="#fff" stroke-width="0.6"/>
<path d="M47.3 0 L52.4 -4.5 L52.4 28 L47.3 33.5 Z" fill="#1677b5" stroke="#fff" stroke-width="0.6"/>
<rect x="0" y="0" width="47.3" height="33.5" fill="#1677b5" stroke="#fff" stroke-width="0.6"/>
<circle cx="23.7" cy="15" r="10.3" fill="none" stroke="#e6d8cc" stroke-width="2.2"/>
<circle cx="23.7" cy="15" r="10.3" fill="none" stroke="#fff" stroke-width="0.9"/>
<path d="M16.4 22.6 L10.6 29.6" stroke="#e6d8cc" stroke-width="3" stroke-linecap="round"/>
<path d="M16.4 22.6 L10.6 29.6" stroke="#fff" stroke-width="1.6" stroke-linecap="round"/>
<rect x="18.4" y="12.4" width="10.6" height="8" fill="none" stroke="#fff" stroke-width="0.8"/>
<path d="M20.4 12.4 L20.4 9.8 A3.3 3.3 0 0 1 27 9.8 L27 12.4" fill="none" stroke="#fff" stroke-width="0.8"/>
<rect x="23.2" y="15.4" width="1.2" height="2.6" fill="#fff"/>
<line x1="3.2" y1="11.3" x2="12.5" y2="11.3" stroke="#fff" stroke-width="1.3"/>
<path d="M2.6 11.3 L6.2 9.3 L6.2 13.3 Z" fill="#fff"/>
<line x1="35" y1="11.3" x2="44" y2="11.3" stroke="#fff" stroke-width="1.3"/>
<path d="M44.6 11.3 L41 9.3 L41 13.3 Z" fill="#fff"/>
<line x1="3.2" y1="22.2" x2="12.5" y2="22.2" stroke="#fff" stroke-width="1.3"/>
<path d="M13.1 22.2 L9.5 20.2 L9.5 24.2 Z" fill="#fff"/>
<line x1="35" y1="22.2" x2="44" y2="22.2" stroke="#fff" stroke-width="1.3"/>
<path d="M34.4 22.2 L38 20.2 L38 24.2 Z" fill="#fff"/>
</g>
<g transform="translate(711.3 678.4)">
<path d="M0 0 L9 -6.7 L52.7 -6.7 L46.1 0 Z" fill="#186b9a" stroke="#fff" stroke-width="0.6"/>
<path d="M46.1 0 L52.7 -6.7 L52.7 19.1 L46.1 28.5 Z" fill="#186b9a" stroke="#fff" stroke-width="0.6"/>
<rect x="0" y="0" width="46.1" height="28.5" fill="#186b9a" stroke="#fff" stroke-width="0.6"/>
<circle cx="21.9" cy="14.8" r="12" fill="none" stroke="#fff" stroke-width="1.2"/>
<line x1="3" y1="9.3" x2="39" y2="9.3" stroke="#fff" stroke-width="1.3"/><path d="M41 9.3 L37 7 L37 11.6 Z" fill="#fff"/>
<line x1="6" y1="21.1" x2="41" y2="21.1" stroke="#fff" stroke-width="1.3"/><path d="M3 21.1 L7 18.8 L7 23.4 Z" fill="#fff"/>
</g>
<text x="541" y="39.77" font-size="13" fill="#165c88" text-anchor="middle" font-weight="bold" >E0/1</text>
<text x="541" y="54.77" font-size="13" fill="#165c88" text-anchor="middle" font-weight="bold" >inside</text>
<text x="630" y="62.77" font-size="13" fill="#165c88" text-anchor="middle" font-weight="bold" >ASA2</text>
<text x="616" y="93.52" font-size="13" fill="#165c88" text-anchor="middle" font-weight="bold" >E0/0</text>
<text x="616" y="108.52" font-size="13" fill="#165c88" text-anchor="middle" font-weight="bold" >outside</text>
<text x="469" y="155.77" font-size="13" fill="#165c88" text-anchor="start" font-weight="bold" >Fa0/0</text>
<text x="714" y="155.77" font-size="13" fill="#165c88" text-anchor="start" font-weight="bold" >Fa0/1</text>
<text x="587.5" y="173.77" font-size="13" fill="#f41c1c" text-anchor="middle" font-weight="bold" >BGP</text>
<text x="587.5" y="188.77" font-size="13" fill="#f41c1c" text-anchor="middle" font-weight="bold" >AS 200</text>
<text x="736" y="200.77" font-size="13" fill="#165c88" text-anchor="start" font-weight="bold" >Fa0/0</text>
<text x="663.3" y="233.27" font-size="13" fill="#165c88" text-anchor="start" font-weight="bold" >S1/0.35</text>
<text x="692.5" y="262.27" font-size="13" fill="#1a1aec" text-anchor="middle" font-weight="bold" >OSPF</text>
<text x="692.5" y="277.27" font-size="13" fill="#1a1aec" text-anchor="middle" font-weight="bold" >Area 100</text>
<text x="470" y="233.27" font-size="13" fill="#165c88" text-anchor="start" font-weight="bold" >S0/0.124</text>
<text x="85" y="309.77" font-size="13" fill="#165c88" text-anchor="start" font-weight="bold" >V255</text>
<text x="79.5" y="370.27" font-size="13" fill="#165c88" text-anchor="start" font-weight="bold" >Fa0/0</text>
<text x="185" y="364.02" font-size="13" fill="#165c88" text-anchor="start" font-weight="bold" >S0/0.124</text>
<text x="429" y="318.27" font-size="13" fill="#165c88" text-anchor="middle" font-weight="bold" >201</text>
<text x="316.75" y="369.02" font-size="13" fill="#165c88" text-anchor="middle" font-weight="bold" >102</text>
<text x="316.75" y="407.02" font-size="13" fill="#165c88" text-anchor="middle" font-weight="bold" >104</text>
<text x="418" y="440.77" font-size="13" fill="#165c88" text-anchor="middle" font-weight="bold" >401</text>
<text x="749.5" y="322.27" font-size="13" fill="#165c88" text-anchor="middle" font-weight="bold" >305</text>
<text x="749.5" y="432.37" font-size="13" fill="#165c88" text-anchor="middle" font-weight="bold" >503</text>
<text x="960" y="216.52" font-size="13" fill="#165c88" text-anchor="middle" font-weight="bold" >AAA/CA</text>
<text x="960" y="232.02" font-size="13" fill="#165c88" text-anchor="middle" font-weight="bold" >Server</text>
<text x="82.5" y="468.77" font-size="13" fill="#165c88" text-anchor="start" font-weight="bold" >Fa0/1</text>
<text x="186.25" y="503.77" font-size="13" fill="#165c88" text-anchor="start" font-weight="bold" >Fa0/0</text>
<text x="106.25" y="533.27" font-size="13" fill="#165c88" text-anchor="start" font-weight="bold" >S0/0/0</text>
<text x="296" y="490.27" font-size="13" fill="#165c88" text-anchor="start" font-weight="bold" >S0/0.124</text>
<text x="380.5" y="552.52" font-size="13" fill="#165c88" text-anchor="start" font-weight="bold" >S0/1</text>
<text x="309.25" y="586.27" font-size="13" fill="#165c88" text-anchor="start" font-weight="bold" >Fa0/0</text>
<text x="537.75" y="470.02" font-size="13" fill="#1a1aec" text-anchor="middle" font-weight="bold" >OSPF</text>
<text x="537.75" y="485.77" font-size="13" fill="#1a1aec" text-anchor="middle" font-weight="bold" >Area 0</text>
<text x="628.25" y="530.77" font-size="13" fill="#165c88" text-anchor="start" font-weight="bold" >S0/1</text>
<text x="673.25" y="489.52" font-size="13" fill="#165c88" text-anchor="start" font-weight="bold" >S0/0.35</text>
<text x="734.5" y="533.27" font-size="13" fill="#165c88" text-anchor="start" font-weight="bold" >Fa0/0</text>
<text x="707.75" y="580.02" font-size="13" fill="#165c88" text-anchor="start" font-weight="bold" >Fa0/1</text>
<text x="909.25" y="421.27" font-size="13" fill="#165c88" text-anchor="middle" font-weight="bold" >E0/0</text>
<text x="909.25" y="437.02" font-size="13" fill="#165c88" text-anchor="middle" font-weight="bold" >outside</text>
<text x="845.5" y="468.77" font-size="13" fill="#165c88" text-anchor="middle" font-weight="bold" >ASA1</text>
<text x="936" y="448.27" font-size="13" fill="#8e8e20" text-anchor="start" font-weight="bold" >RIPv2</text>
<text x="935.5" y="475.77" font-size="13" fill="#165c88" text-anchor="middle" font-weight="bold" >E0/1</text>
<text x="935.5" y="490.77" font-size="13" fill="#165c88" text-anchor="middle" font-weight="bold" >inside</text>
<text x="882.5" y="517.02" font-size="13" fill="#f41c1c" text-anchor="middle" font-weight="bold" >BGP AS 100</text>
<text x="911.75" y="559.52" font-size="13" fill="#165c88" text-anchor="start" font-weight="bold" >Fa0/13</text>
<text x="815.5" y="587.02" font-size="13" fill="#165c88" text-anchor="start" font-weight="bold" >Fa0/5</text>
<text x="914.25" y="616.77" font-size="13" fill="#165c88" text-anchor="middle" font-weight="bold" >VL73</text>
<text x="709.5" y="656.77" font-size="13" fill="#165c88" text-anchor="middle" font-weight="bold" >C&amp;C</text>
<text x="92.5" y="619.27" font-size="13" fill="#8e8e20" text-anchor="start" font-weight="bold" >RIPv2</text>
<text x="168" y="650.57" font-size="13" fill="#165c88" text-anchor="middle" font-weight="bold" >51</text>
<text x="92.5" y="775.42" font-size="17.8" fill="#165c88" text-anchor="start" font-weight="bold" >www.INE.com</text>
<text x="834.6" y="45.2" font-size="52" font-weight="bold" fill="url(#tcg)" stroke="#dcdcdc" stroke-width="7.5" stroke-linejoin="round" textLength="18.8" lengthAdjust="spacingAndGlyphs">T</text>
<text x="860" y="45.2" font-size="52" font-weight="bold" fill="url(#tcg)" stroke="#dcdcdc" stroke-width="7.5" stroke-linejoin="round" textLength="20.8" lengthAdjust="spacingAndGlyphs">C</text>
<text x="887.3" y="45.2" font-size="52" font-weight="bold" fill="url(#tcg)" stroke="#dcdcdc" stroke-width="7.5" stroke-linejoin="round" textLength="20.8" lengthAdjust="spacingAndGlyphs">4</text>
<text x="914.7" y="45.2" font-size="52" font-weight="bold" fill="url(#tcg)" stroke="#dcdcdc" stroke-width="7.5" stroke-linejoin="round" textLength="21.7" lengthAdjust="spacingAndGlyphs">S</text>
<text x="942" y="45.2" font-size="52" font-weight="bold" fill="url(#tcg)" stroke="#dcdcdc" stroke-width="7.5" stroke-linejoin="round" textLength="6.2" lengthAdjust="spacingAndGlyphs">.</text>
<text x="954.7" y="45.2" font-size="57" font-weight="bold" fill="url(#tcg)" stroke="#dcdcdc" stroke-width="7.5" stroke-linejoin="round" textLength="20.8" lengthAdjust="spacingAndGlyphs">n</text>
<text x="982.1" y="45.2" font-size="57" font-weight="bold" fill="url(#tcg)" stroke="#dcdcdc" stroke-width="7.5" stroke-linejoin="round" textLength="20.7" lengthAdjust="spacingAndGlyphs">e</text>
<text x="1009.4" y="45.2" font-size="50" font-weight="bold" fill="url(#tcg)" stroke="#dcdcdc" stroke-width="7.5" stroke-linejoin="round" textLength="8.1" lengthAdjust="spacingAndGlyphs">t</text>
<text x="834.6" y="45.2" font-size="52" font-weight="bold" fill="url(#tcg)" stroke="url(#tcg)" stroke-width="5.5" stroke-linejoin="miter" textLength="18.8" lengthAdjust="spacingAndGlyphs">T</text>
<text x="860" y="45.2" font-size="52" font-weight="bold" fill="url(#tcg)" stroke="url(#tcg)" stroke-width="5.5" stroke-linejoin="miter" textLength="20.8" lengthAdjust="spacingAndGlyphs">C</text>
<text x="887.3" y="45.2" font-size="52" font-weight="bold" fill="url(#tcg)" stroke="url(#tcg)" stroke-width="5.5" stroke-linejoin="miter" textLength="20.8" lengthAdjust="spacingAndGlyphs">4</text>
<text x="914.7" y="45.2" font-size="52" font-weight="bold" fill="url(#tcg)" stroke="url(#tcg)" stroke-width="5.5" stroke-linejoin="miter" textLength="21.7" lengthAdjust="spacingAndGlyphs">S</text>
<text x="942" y="45.2" font-size="52" font-weight="bold" fill="url(#tcg)" stroke="url(#tcg)" stroke-width="5.5" stroke-linejoin="miter" textLength="6.2" lengthAdjust="spacingAndGlyphs">.</text>
<text x="954.7" y="45.2" font-size="57" font-weight="bold" fill="url(#tcg)" stroke="url(#tcg)" stroke-width="4" stroke-linejoin="miter" textLength="20.8" lengthAdjust="spacingAndGlyphs">n</text>
<text x="982.1" y="45.2" font-size="57" font-weight="bold" fill="url(#tcg)" stroke="url(#tcg)" stroke-width="4" stroke-linejoin="miter" textLength="20.7" lengthAdjust="spacingAndGlyphs">e</text>
<text x="1009.4" y="45.2" font-size="50" font-weight="bold" fill="url(#tcg)" stroke="url(#tcg)" stroke-width="5.5" stroke-linejoin="miter" textLength="8.1" lengthAdjust="spacingAndGlyphs">t</text>
<text x="928.3" y="34.62" font-size="11.7" fill="#165c88" text-anchor="middle" font-weight="bold" >CCIE Security</text>
<text x="928.3" y="48.52" font-size="11.7" fill="#165c88" text-anchor="middle" font-weight="bold" >Lab Workbook Volume II</text>
<text x="928.3" y="62.42" font-size="11.7" fill="#165c88" text-anchor="middle" font-weight="bold" >(IEWB-SC-VOL2)</text>
<text x="928.3" y="76.32" font-size="11.7" fill="#165c88" text-anchor="middle" font-weight="bold" >Version 5.0 Lab 8</text>
<text x="928.3" y="90.22" font-size="11.7" fill="#165c88" text-anchor="middle" font-weight="bold" >&#169;2009 Internetwork Expert</text>
<rect x="373" y="379" width="275" height="31" fill="#b0b0b0" opacity="0.5" transform="translate(1.5 2.5)"/>
<text x="375.5" y="407.6" style="font-family:Liberation Serif" font-size="41" font-weight="bold" textLength="270" lengthAdjust="spacingAndGlyphs" transform="translate(1.5 2.5)" fill="#a8a8a8" stroke="#a8a8a8" stroke-width="9" stroke-linejoin="round" opacity="0.5">DLSUB.COM</text>
<rect x="373" y="379" width="275" height="31" fill="#fff"/>
<text x="375.5" y="407.6" style="font-family:Liberation Serif" font-size="41" font-weight="bold" textLength="270" lengthAdjust="spacingAndGlyphs" fill="#fff" stroke="#ffffff" stroke-width="9" stroke-linejoin="round">DLSUB.COM</text>
<text x="375.5" y="407.6" style="font-family:Liberation Serif" font-size="41" font-weight="bold" textLength="270" lengthAdjust="spacingAndGlyphs" fill="url(#dlg)" stroke="url(#dlg)" stroke-width="4.2" stroke-linejoin="miter">DLSUB.COM</text>
<text x="375.5" y="407.6" style="font-family:Liberation Serif" font-size="41" font-weight="bold" textLength="270" lengthAdjust="spacingAndGlyphs" fill="none" stroke="#f2a8ac" stroke-width="0.6" opacity="0.85">DLSUB.COM</text>
<text x="718" y="773.5" font-size="31" font-weight="bold" textLength="291" lengthAdjust="spacingAndGlyphs" transform="translate(1.5 2)" fill="#888" stroke="#888" stroke-width="7" stroke-linejoin="round" opacity="0.45">TradersXtreme.com</text>
<text x="718" y="773.5" font-size="31" font-weight="bold" textLength="291" lengthAdjust="spacingAndGlyphs" fill="#fff" stroke="#fff" stroke-width="7" stroke-linejoin="round">TradersXtreme.com</text>
<text x="718" y="773.5" font-size="31" font-weight="bold" textLength="291" lengthAdjust="spacingAndGlyphs" fill="#3a1c1c" stroke="#3a1c1c" stroke-width="3.4" stroke-linejoin="round">TradersXtreme.com</text>
<text x="718" y="773.5" font-size="31" font-weight="bold" textLength="291" lengthAdjust="spacingAndGlyphs" fill="url(#txg)" stroke="url(#txg)" stroke-width="0.8" stroke-linejoin="round">TradersXtreme.com</text>
</svg>
</body></html>
